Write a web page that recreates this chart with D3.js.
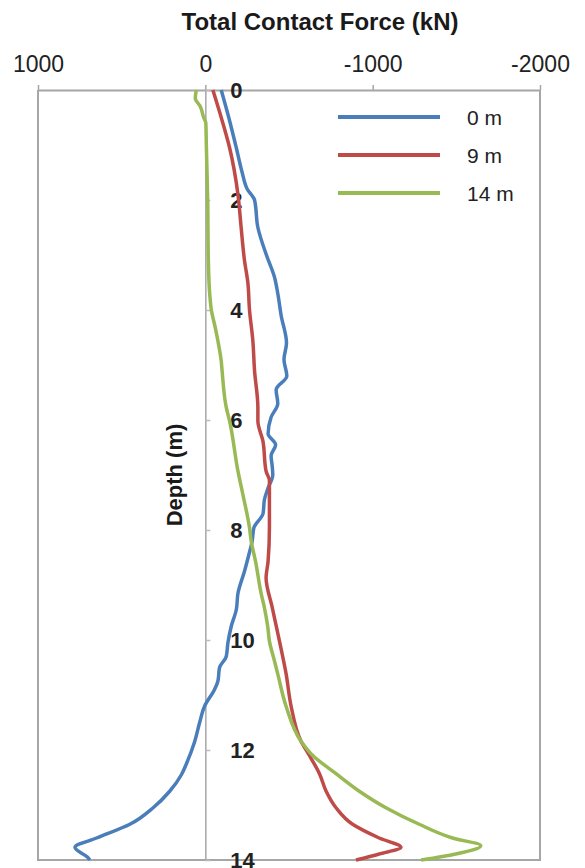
<!DOCTYPE html>
<html>
<head>
<meta charset="utf-8">
<script src="https://cdn.jsdelivr.net/npm/d3@7"></script>
<style>
    body { margin: 0; background: #fff; }
    svg { display: block; font-family: "Liberation Sans", Arial, sans-serif; }
</style>
</head>
<body>
<div id="chart"></div>
<script>
// Depth (m) and total contact force (kN)
const depth0 = [0, 0.5, 1.05, 1.5, 1.8, 2.0, 2.5, 3.0, 3.4, 3.7, 4.1, 4.6, 4.9, 5.2, 5.45, 5.7, 5.95, 6.25, 6.45, 6.65, 6.85, 7.0, 7.25, 7.45, 7.7, 7.96, 8.2, 8.45, 8.75, 9.15, 9.45, 9.75, 10.05, 10.3, 10.5, 10.75, 10.9, 11.2, 11.5, 11.85, 12.25, 12.45, 12.75, 13.05, 13.35, 13.6, 13.77, 13.96, 14.0];
const force0 = [-95, -140, -185, -220, -250, -294, -314, -365, -413, -433, -453, -485, -470, -487, -423, -433, -393, -375, -420, -393, -400, -403, -373, -353, -345, -290, -280, -260, -234, -195, -185, -155, -135, -125, -85, -75, -55, 4, 34, 64, 113, 143, 213, 312, 451, 650, 779, 700, 690];

const depth9 = [0, 0.5, 1.05, 1.9, 2.5, 3.1, 3.5, 4.0, 4.56, 5.1, 5.77, 6.02, 6.38, 6.93, 7.1, 7.96, 8.57, 8.87, 9.41, 10.02, 10.62, 11.21, 11.84, 12.1, 12.43, 12.75, 13.05, 13.35, 13.6, 13.77, 13.89, 14.0];
const force9 = [-45, -95, -145, -195, -214, -234, -254, -264, -284, -294, -314, -314, -344, -363, -383, -383, -375, -363, -400, -443, -483, -513, -572, -622, -682, -722, -781, -880, -1039, -1169, -1039, -900];

const depth14 = [0, 0.15, 0.3, 0.5, 0.6, 1.0, 2.0, 3.1, 3.7, 4.0, 4.33, 4.56, 4.93, 5.1, 5.77, 6.02, 6.93, 7.35, 7.96, 8.2, 8.57, 9.16, 9.41, 9.76, 10.02, 10.38, 10.62, 11.21, 11.84, 12.1, 12.43, 12.75, 13.05, 13.35, 13.6, 13.74, 13.89, 14.0];
const force14 = [54, 60, 30, 10, -3, -6, -14, -18, -26, -36, -60, -75, -95, -100, -125, -145, -195, -224, -264, -274, -300, -334, -353, -373, -383, -413, -433, -483, -572, -642, -781, -920, -1079, -1278, -1477, -1646, -1497, -1290];

const seriesNames = ['0 m', '9 m', '14 m'];
const forceTicks = [1000, 0, -1000, -2000];
const depthTicks = [0, 2, 4, 6, 8, 10, 12, 14];

const colors = ['#4a7ebb', '#be4b48', '#98b954'];
const series = [
    { name: seriesNames[0], depth: depth0, force: force0 },
    { name: seriesNames[1], depth: depth9, force: force9 },
    { name: seriesNames[2], depth: depth14, force: force14 }
];

const width = 585, height = 868;
const plot = { left: 38, right: 540, top: 90, bottom: 860 };

const svg = d3.select('#chart').append('svg')
    .attr('width', width)
    .attr('height', height);

// --- Scales ---
const x = d3.scaleLinear().domain([1000, -2000]).range([plot.left, plot.right]);
const y = d3.scaleLinear().domain([0, 14]).range([plot.top, plot.bottom]);

// --- Frame (left, right, bottom) ---
svg.append('path')
    .attr('d', `M${plot.left},${plot.top}V${plot.bottom}H${plot.right}V${plot.top}`)
    .attr('fill', 'none')
    .attr('stroke', '#a6a6a6')
    .attr('stroke-width', 2);

// --- Top axis (force) ---
const xAxis = svg.append('g')
    .attr('transform', `translate(0,${plot.top})`)
    .call(d3.axisTop(x).tickValues(forceTicks).tickSizeInner(5).tickSizeOuter(0).tickPadding(13).tickFormat(d3.format('d')));
xAxis.select('.domain').attr('stroke', '#a6a6a6').attr('stroke-width', 2);
xAxis.selectAll('.tick line').attr('stroke', '#a6a6a6').attr('stroke-width', 1.5);
xAxis.selectAll('.tick text')
    .attr('fill', '#222')
    .style('font-size', '23px')
    .style('font-family', '"Liberation Sans", Arial, sans-serif')
    .text(d => d < 0 ? '-' + Math.abs(d) : d);

// --- Depth axis at zero force ---
const yAxis = svg.append('g')
    .attr('transform', `translate(${x(0)},0)`)
    .call(d3.axisRight(y).tickValues(depthTicks).tickSizeInner(5).tickSizeOuter(0).tickPadding(20));
yAxis.select('.domain').attr('stroke', '#a6a6a6').attr('stroke-width', 1.5);
yAxis.selectAll('.tick line').attr('stroke', '#bbb').attr('stroke-width', 1.5);
yAxis.selectAll('.tick text')
    .attr('fill', '#222')
    .style('font-size', '22px')
    .style('font-weight', 'bold')
    .style('font-family', '"Liberation Sans", Arial, sans-serif');

// --- Titles ---
svg.append('text')
    .attr('x', 320)
    .attr('y', 30)
    .attr('text-anchor', 'middle')
    .attr('font-size', '24px')
    .attr('font-weight', 'bold')
    .attr('fill', '#1a1a1a')
    .text('Total Contact Force (kN)');

svg.append('text')
    .attr('transform', 'translate(182,475) rotate(-90)')
    .attr('text-anchor', 'middle')
    .attr('font-size', '22px')
    .attr('font-weight', 'bold')
    .attr('fill', '#1a1a1a')
    .text('Depth (m)');

// --- Lines ---
const line = d3.line()
    .x(d => x(d[1]))
    .y(d => y(d[0]))
    .curve(d3.curveMonotoneY);

svg.selectAll('path.series')
    .data(series)
    .enter()
    .append('path')
    .attr('class', 'series')
    .attr('d', s => line(d3.zip(s.depth, s.force)))
    .attr('fill', 'none')
    .attr('stroke', (s, i) => colors[i])
    .attr('stroke-width', 3.5)
    .attr('stroke-linejoin', 'round');

// --- Legend ---
const legend = svg.append('g').attr('class', 'legend');
series.forEach((s, i) => {
    const ly = 117 + i * 38;
    legend.append('line')
        .attr('x1', 338).attr('x2', 440)
        .attr('y1', ly).attr('y2', ly)
        .attr('stroke', colors[i])
        .attr('stroke-width', 4);
    legend.append('text')
        .attr('x', 467)
        .attr('y', ly)
        .attr('dy', '0.36em')
        .attr('font-size', '21px')
        .attr('fill', '#222')
        .text(s.name);
});
</script>
</body>
</html>
